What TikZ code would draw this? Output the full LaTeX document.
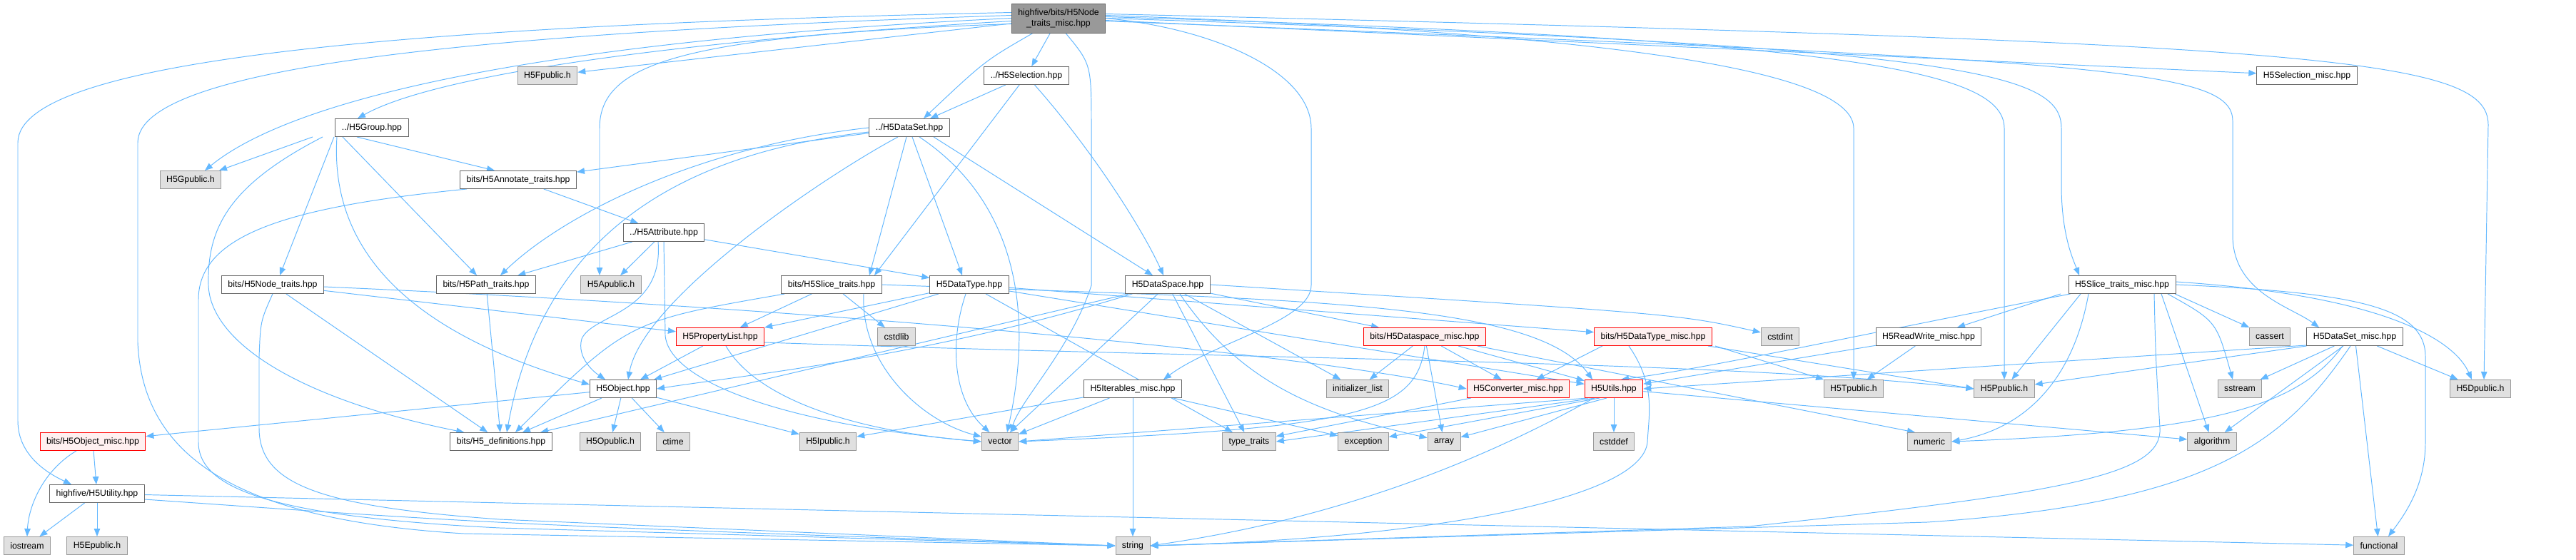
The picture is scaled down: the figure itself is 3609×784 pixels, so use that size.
\documentclass[tikz,border=0pt]{standalone}
\usepackage{fontspec}
\setmainfont{Liberation Sans}
\usepackage{tikz}
\usetikzlibrary{arrows.meta,calc,backgrounds}
\usepackage{xcolor}
\definecolor{fw}{RGB}{255,255,255}
\definecolor{fwr}{RGB}{102,102,102}
\definecolor{fg}{RGB}{224,224,224}
\definecolor{fgr}{RGB}{153,153,153}
\definecolor{fr}{RGB}{255,240,240}
\definecolor{frr}{RGB}{255,0,0}
\definecolor{ft}{RGB}{153,153,153}
\definecolor{arrc}{RGB}{99,184,255}
\tikzset{
  wn/.style={rectangle,draw=fwr,fill=fw,line width=0.55pt,
    font=\fontsize{7}{8.5}\selectfont,
    minimum height=0.5cm,inner xsep=0.18cm,inner ysep=0pt},
  gn/.style={wn,draw=fgr,fill=fg},
  rn/.style={wn,draw=frr,fill=fr},
  tn/.style={wn,fill=ft,align=center,minimum height=0.82cm},
  arr/.style={-{Triangle[length=0.22cm,width=0.17cm]},line width=0.55pt,color=arrc},
}

\begin{document}
\begin{tikzpicture}[x=0.02cm,y=-0.02cm]
  \useasboundingbox (0,0) rectangle (3609,784);
  % the file itself
  \node[tn] (root) at (1483,25.5) {highfive/bits/H5Node\\\_traits\_misc.hpp};

  % upper rows
  \node[gn] (fpub) at (767,106) {H5Fpublic.h};
  \node[wn] (sel) at (1438,106) {../H5Selection.hpp};
  \node[wn] (selmisc) at (3232,106) {H5Selection\_misc.hpp};
  \node[wn] (grp) at (521,179) {../H5Group.hpp};
  \node[wn] (dset) at (1274,179) {../H5DataSet.hpp};
  \node[gn] (gpub) at (267,252) {H5Gpublic.h};
  \node[wn] (annot) at (726,252) {bits/H5Annotate\_traits.hpp};
  \node[wn] (attr) at (930,326) {../H5Attribute.hpp};

  % traits row
  \node[wn] (nodetr) at (382,399) {bits/H5Node\_traits.hpp};
  \node[wn] (pathtr) at (681,399) {bits/H5Path\_traits.hpp};
  \node[gn] (apub) at (856,399) {H5Apublic.h};
  \node[wn] (slicetr) at (1165,399) {bits/H5Slice\_traits.hpp};
  \node[wn] (dtype) at (1358,399) {H5DataType.hpp};
  \node[wn] (dspace) at (1636,399) {H5DataSpace.hpp};
  \node[wn] (slicemisc) at (2973,399) {H5Slice\_traits\_misc.hpp};

  % misc row
  \node[rn] (plist) at (1009,472) {H5PropertyList.hpp};
  \node[gn] (cstdlib) at (1256,472) {cstdlib};
  \node[rn] (dspmisc) at (1996,472) {bits/H5Dataspace\_misc.hpp};
  \node[rn] (dtmisc) at (2316,472) {bits/H5DataType\_misc.hpp};
  \node[gn] (cstdint) at (2494,472) {cstdint};
  \node[wn] (rwmisc) at (2702,472) {H5ReadWrite\_misc.hpp};
  \node[gn] (cassert) at (3180,472) {cassert};
  \node[wn] (dsetmisc) at (3299,472) {H5DataSet\_misc.hpp};

  \node[wn] (obj) at (873,545) {H5Object.hpp};
  \node[wn] (iter) at (1587,545) {H5Iterables\_misc.hpp};
  \node[gn] (initl) at (1902,545) {initializer\_list};
  \node[rn] (conv) at (2127,545) {H5Converter\_misc.hpp};
  \node[rn] (utils) at (2261,545) {H5Utils.hpp};
  \node[gn] (tpub) at (2597,545) {H5Tpublic.h};
  \node[gn] (ppub) at (2808,545) {H5Ppublic.h};
  \node[gn] (sstream) at (3138,545) {sstream};
  \node[gn] (dpub) at (3475,545) {H5Dpublic.h};

  % system headers
  \node[rn] (objmisc) at (130,619) {bits/H5Object\_misc.hpp};
  \node[wn] (defs) at (702,619) {bits/H5\_definitions.hpp};
  \node[gn] (opub) at (855,619) {H5Opublic.h};
  \node[gn] (ctime) at (943,619) {ctime};
  \node[gn] (ipub) at (1160,619) {H5Ipublic.h};
  \node[gn] (vector) at (1401,619) {vector};
  \node[gn] (typetr) at (1750,619) {type\_traits};
  \node[gn] (except) at (1910,619) {exception};
  \node[gn] (array) at (2023,619) {array};
  \node[gn] (cstddef) at (2261,619) {cstddef};
  \node[gn] (numeric) at (2703,619) {numeric};
  \node[gn] (algo) at (3099,619) {algorithm};

  \node[wn] (util) at (136,692) {highfive/H5Utility.hpp};
  \node[gn] (iostream) at (38,765) {iostream};
  \node[gn] (epub) at (136,765) {H5Epublic.h};
  \node[gn] (string) at (1587,765) {string};
  \node[gn] (functional) at (3333,765) {functional};

  \begin{scope}[on background layer]
    \fill[white] (0,0) rectangle (3609,784);
    % includes of the file itself
    \draw[arr] ($(root.west)+(0,-8)$) .. controls (600,35) and (25,80) .. (25,200)
      -- (25,590) .. controls (25,640) and (70,665) .. ($(util.north)+(-36,0)$);
    \draw[arr] ($(root.west)+(0,-4)$) .. controls (700,45) and (193,90) .. (193,200)
      -- (193,480) .. controls (200,650) and (350,730) .. (650,748) -- (string.west);
    \draw[arr] (root.west) .. controls (800,55) and (420,130) .. ($(gpub.north)+(20,0)$);
    \draw[arr] ($(root.west)+(0,4)$) .. controls (900,60) and (600,110) .. ($(grp.north)+(-20,0)$);
    \draw[arr] (root) -- (fpub);
    \draw[arr] ($(root.west)+(0,8)$) .. controls (950,50) and (840,90) .. (840,180)
      -- ($(apub.north)+(-16,0)$);
    \draw[arr] ($(root.south)+(-36,0)$) .. controls (1380,85) .. ($(dset.north)+(20,0)$);
    \draw[arr] (root) -- (sel);
    \draw[arr] ($(root.south)+(10,0)$) .. controls (1529,90) .. (1529,180) -- (1529,400)
      .. controls (1500,490) and (1430,560) .. ($(vector.north)+(15,0)$);
    \draw[arr] (root.east) .. controls (1700,40) and (1837,100) .. (1837,180) -- (1837,400)
      .. controls (1837,450) and (1700,480) .. ($(iter.north)+(43,0)$);
    \draw[arr] ($(root.east)+(0,-4)$) .. controls (2350,50) and (2597,110) .. (2597,180) -- (tpub.north);
    \draw[arr] ($(root.east)+(0,-2)$) .. controls (2600,55) and (2808,100) .. (2808,180) -- (ppub.north);
    \draw[arr] (root.east) .. controls (2750,65) and (2888,100) .. (2888,180) -- (2888,260)
      .. controls (2888,330) and (2905,365) .. ($(slicemisc.north)+(-60,0)$);
    \draw[arr] (root) -- (selmisc);
    \draw[arr] ($(root.east)+(0,4)$) .. controls (2950,85) and (3128,95) .. (3128,170) -- (3128,330)
      .. controls (3128,410) and (3210,430) .. ($(dsetmisc.north)+(-50,0)$);
    \draw[arr] ($(root.east)+(0,-6)$) .. controls (3250,60) and (3486,80) .. (3486,175)
      -- ($(dpub.north)+(5,0)$);

    % selection
    \draw[arr] (sel) -- (dset);
    \draw[arr] (sel) -- ($(slicetr.north)+(60,0)$);
    \draw[arr] (sel) .. controls (1530,210) and (1600,320) .. (dspace);

    % group
    \draw[arr] ($(grp.south)+(-83,0)$) -- ($(gpub.north)+(40,0)$);
    \draw[arr] ($(grp.south)+(-69,0)$) .. controls (320,260) and (290,320) .. (292,400)
      .. controls (295,480) and (420,560) .. ($(defs.north west)+(20,0)$);
    \draw[arr] ($(grp.south)+(-53,0)$) -- ($(nodetr.north)+(10,0)$);
    \draw[arr] ($(grp.south)+(-49,0)$) .. controls (460,380) and (620,480) .. ($(obj.west)+(0,-6)$);
    \draw[arr] ($(grp.south)+(-41,0)$) -- ($(pathtr.north)+(-13,0)$);
    \draw[arr] ($(grp.south)+(-21,0)$) -- ($(annot.north)+(-33,0)$);

    % annotate traits
    \draw[arr] (annot) -- (attr);
    \draw[arr] ($(annot.south west)+(10,0)$) .. controls (400,290) and (278,330) .. (278,420)
      -- (278,620) .. controls (278,690) and (400,725) .. (700,740) -- (string.west);

    % attribute
    \draw[arr] (attr) -- (pathtr);
    \draw[arr] (attr) -- (apub);
    \draw[arr] ($(attr.south)+(-8,0)$) .. controls (930,440) and (830,440) .. (815,475)
      .. controls (808,500) and (830,520) .. ($(obj.north)+(-25,0)$);
    \draw[arr] (attr) -- (dtype);
    \draw[arr] (attr.south) -- (932,470) .. controls (937,535) and (1100,595) .. (vector.west);

    % dataset
    \draw[arr] (dset) -- (annot);
    \draw[arr] (dset.west) .. controls (980,205) and (790,300) .. ($(pathtr.north)+(20,0)$);
    \draw[arr] ($(dset.west)+(0,6)$) .. controls (950,215) and (760,330) .. ($(defs.north)+(8,0)$);
    \draw[arr] ($(dset.south)+(-16,0)$) .. controls (1150,250) and (900,420) .. ($(obj.north)+(7,0)$);
    \draw[arr] ($(dset.south)+(-4,0)$) -- ($(slicetr.north)+(53,0)$);
    \draw[arr] ($(dset.south)+(4,0)$) -- ($(dtype.north)+(-10,0)$);
    \draw[arr] ($(dset.south)+(14,0)$) .. controls (1420,280) and (1450,430) .. ($(vector.north)+(10,0)$);
    \draw[arr] ($(dset.south)+(34,0)$) -- ($(dspace.north)+(-21,0)$);

    % node and path traits
    \draw[arr] (nodetr) -- (plist);
    \draw[arr] ($(nodetr.east)+(0,3)$) .. controls (1100,430) and (1800,490) .. (conv.west);
    \draw[arr] (nodetr) -- (defs);
    \draw[arr] (nodetr.south) .. controls (365,450) .. (363,500) -- (363,600)
      .. controls (363,680) and (450,710) .. (700,728) -- (string.west);
    \draw[arr] (pathtr) -- (defs);

    % slice traits
    \draw[arr] ($(slicetr.south west)+(5,0)$) .. controls (880,450) .. ($(defs.north)+(20,0)$);
    \draw[arr] (slicetr) -- (plist);
    \draw[arr] (slicetr) -- (cstdlib);
    \draw[arr] ($(slicetr.south)+(45,0)$) .. controls (1205,510) and (1290,590) .. (vector);
    \draw[arr] (slicetr.east) .. controls (1800,420) and (2150,420) .. ($(utils.north)+(-30,0)$);

    % datatype
    \draw[arr] (dtype) -- (obj);
    \draw[arr] (dtype) -- (plist);
    \draw[arr] ($(dtype.south)+(-5,0)$) .. controls (1330,480) and (1335,560) .. (vector);
    \draw[arr] (dtype) -- (typetr);
    \draw[arr] (dtype) -- (dtmisc);
    \draw[arr] (dtype) -- (utils);

    % dataspace
    \draw[arr] ($(dspace.south west)+(10,0)$) .. controls (1300,500) and (1050,525) .. (obj.east);
    \draw[arr] (dspace) -- (defs);
    \draw[arr] (dspace) -- (vector);
    \draw[arr] (dspace) -- (typetr);
    \draw[arr] ($(dspace.south)+(17,0)$) .. controls (1740,540) and (1850,580) .. (array);
    \draw[arr] (dspace) -- (initl);
    \draw[arr] (dspace) -- (dspmisc);
    \draw[arr] (dspace.east) .. controls (2350,440) .. (cstdint);

    % iterables, property list
    \draw[arr] (iter) -- (ipub);
    \draw[arr] (iter) -- (vector);
    \draw[arr] (iter) -- (string);
    \draw[arr] (iter) -- (except);
    \draw[arr] (plist) -- (obj);
    \draw[arr] ($(plist.south)+(8,0)$) .. controls (1060,560) and (1200,605) .. (vector.west);
    \draw[arr] ($(plist.east)+(0,8)$) .. controls (1800,505) and (2400,505) .. (ppub.west);

    % dataspace misc
    \draw[arr] (dspmisc) -- (initl);
    \draw[arr] (dspmisc.south) .. controls (1985,580) and (1900,600) .. (vector.east);
    \draw[arr] (dspmisc) -- (array);
    \draw[arr] (dspmisc) -- (conv);
    \draw[arr] (dspmisc) -- (utils);
    \draw[arr] ($(dspmisc.south)+(74,0)$) -- ($(numeric.north)+(-20,0)$);

    % datatype misc, read/write misc, converter
    \draw[arr] ($(dtmisc.south)+(-71,0)$) -- (conv);
    \draw[arr] ($(dtmisc.south)+(-34,0)$) .. controls (2320,540) and (2310,580) .. (2308,620)
      .. controls (2300,700) and (2000,755) .. (string.east);
    \draw[arr] ($(dtmisc.south)+(87,0)$) -- (tpub);
    \draw[arr] ($(dtmisc.south east)+(-6,0)$) -- (ppub.west);
    \draw[arr] (rwmisc) -- (tpub);
    \draw[arr] (rwmisc) -- (utils);
    \draw[arr] (conv) -- (typetr);

    % utils
    \draw[arr] ($(utils.south west)+(15,0)$) -- (typetr.east);
    \draw[arr] ($(utils.south west)+(5,0)$) -- (vector.east);
    \draw[arr] ($(utils.south)+(-20,0)$) -- (except);
    \draw[arr] ($(utils.south)+(-10,0)$) -- (array);
    \draw[arr] (utils) -- (cstddef);
    \draw[arr] ($(utils.south)+(-28,0)$) .. controls (1980,700) and (1750,745) .. (string.east);
    \draw[arr] (utils) -- (algo);

    % object
    \draw[arr] (obj) -- (defs);
    \draw[arr] (obj) -- (opub);
    \draw[arr] (obj) -- (ctime);
    \draw[arr] (obj) -- (ipub);
    \draw[arr] (obj) -- (objmisc);
    \draw[arr] ($(objmisc.south)+(-23,0)$) .. controls (60,660) and (40,710) .. (iostream.north);
    \draw[arr] (objmisc) -- (util);
    \draw[arr] (util) -- (iostream);
    \draw[arr] (util) -- (epub);
    \draw[arr] (util) -- (functional);
    \draw[arr] ($(util.east)+(0,8)$) .. controls (700,735) .. (string.west);

    % slice traits misc
    \draw[arr] ($(slicemisc.south)+(-86,0)$) -- (rwmisc);
    \draw[arr] ($(slicemisc.south)+(-58,0)$) -- (ppub);
    \draw[arr] ($(slicemisc.south)+(-47,0)$) .. controls (2905,530) and (2840,600) .. (numeric.east);
    \draw[arr] ($(slicemisc.south)+(74,0)$) -- (cassert);
    \draw[arr] ($(slicemisc.south)+(64,0)$) .. controls (3105,450) .. ($(sstream.north)+(-10,0)$);
    \draw[arr] ($(slicemisc.south)+(55,0)$) -- (algo);
    \draw[arr] ($(slicemisc.south)+(45,0)$) .. controls (3020,500) .. (3026,600)
      .. controls (3030,665) and (2900,690) .. (2450,738) -- (string.east);
    \draw[arr] (slicemisc.east) .. controls (3300,410) and (3398,430) .. (3398,500) -- (3398,620)
      .. controls (3398,680) and (3370,720) .. ($(functional.north)+(13,0)$);
    \draw[arr] ($(slicemisc.east)+(0,-4)$) .. controls (3350,415) and (3440,480) .. ($(dpub.north)+(-12,0)$);
    \draw[arr] ($(slicemisc.south west)+(3,0)$) .. controls (2600,470) and (2400,515) .. ($(utils.north)+(10,0)$);

    % dataset misc
    \draw[arr] (dsetmisc) -- (sstream);
    \draw[arr] ($(dsetmisc.south)+(-17,0)$) .. controls (3220,570) and (3100,605) .. (numeric.east);
    \draw[arr] ($(dsetmisc.south)+(-16,0)$) -- (algo);
    \draw[arr] ($(dsetmisc.south)+(-6,0)$) .. controls (3200,620) and (3100,705) .. (2700,732) -- (string.east);
    \draw[arr] (dsetmisc) -- (functional);
    \draw[arr] (dsetmisc) -- (dpub);
    \draw[arr] ($(dsetmisc.south west)+(0,-1)$) -- (utils.east);
    \draw[arr] (dsetmisc.south west) -- (ppub);
  \end{scope}
\end{tikzpicture}
\end{document}
